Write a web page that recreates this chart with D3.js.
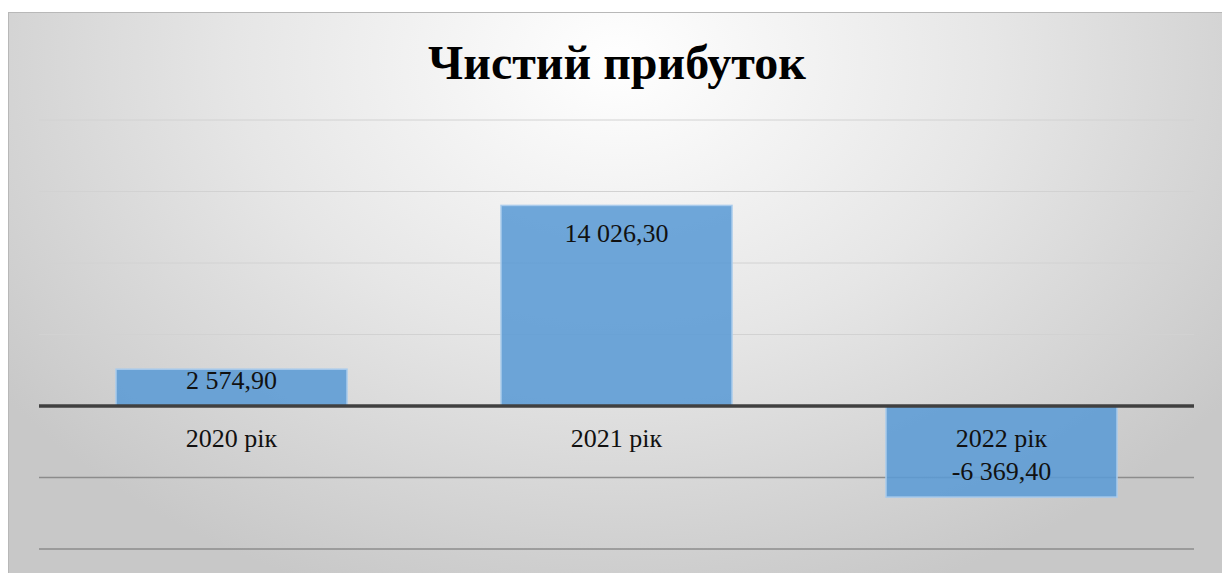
<!DOCTYPE html>
<html><head><meta charset="utf-8">
<script src="https://cdn.jsdelivr.net/npm/d3@7"></script>
<style>html,body{margin:0;padding:0;background:#fff;}svg{display:block;}</style>
</head><body>
<svg id="c" width="1222" height="573"></svg>
<script>
const categories = ["2020 рік", "2021 рік", "2022 рік"];
const values = [2574.9, 14026.3, -6369.4];
const valueLabels = ["2 574,90", "14 026,30", "-6 369,40"];
const yTicks = [-10000, -5000, 0, 5000, 10000, 15000, 20000];
const title = "Чистий прибуток";

const svg = d3.select("#c");
const defs = svg.append("defs");
const g = defs.append("radialGradient").attr("id","bg")
  .attr("gradientUnits","userSpaceOnUse").attr("cx",617).attr("cy",60).attr("r",760)
  .attr("gradientTransform","translate(617,60) scale(1,0.75) translate(-617,-60)");
g.append("stop").attr("offset","0").attr("stop-color","#ffffff");
g.append("stop").attr("offset","0.5").attr("stop-color","#e6e6e6");
g.append("stop").attr("offset","1").attr("stop-color","#c8c8c8");

svg.append("rect").attr("x",8.5).attr("y",12.5).attr("width",1222).attr("height",570)
  .attr("fill","url(#bg)").attr("stroke","#b8b8b8").attr("stroke-width",1);

const x = d3.scaleBand().domain(categories).range([39,1194]).paddingInner(0.4).paddingOuter(0.2);
const y = d3.scaleLinear().domain([-10000,20000]).range([549,120]);

svg.append("g").selectAll("line").data(yTicks.filter(d=>d!==0)).join("line")
  .attr("x1",39).attr("x2",1194).attr("y1",d=>y(d)).attr("y2",d=>y(d))
  .attr("stroke",d=>d<0?"#8c8c8c":"#d2d2d2").attr("stroke-width",d=>d<0?1.5:1);

svg.append("g").selectAll("rect").data(values).join("rect")
  .attr("x",(d,i)=>x(categories[i])).attr("width",x.bandwidth())
  .attr("y",d=>y(Math.max(0,d))).attr("height",d=>Math.abs(y(d)-y(0)))
  .attr("fill","#5b9bd5").attr("fill-opacity",0.88)
  .attr("stroke","#a9cbec").attr("stroke-width",1.5);

svg.append("line").attr("x1",39).attr("x2",1194).attr("y1",y(0)).attr("y2",y(0))
  .attr("stroke","#404040").attr("stroke-width",3.5);

const font = "Liberation Serif";
svg.append("g").selectAll("text").data(categories).join("text")
  .attr("x",d=>x(d)+x.bandwidth()/2).attr("y",y(0)+41)
  .attr("text-anchor","middle").style("font-family",font).style("font-size","26px")
  .style("fill","#111").text(d=>d);

svg.append("g").selectAll("text").data(values).join("text")
  .attr("x",(d,i)=>x(categories[i])+x.bandwidth()/2)
  .attr("y",d=> d>=0 ? Math.min(y(d)+37, y(0)-17) : y(d)-17)
  .attr("text-anchor","middle").style("font-family",font).style("font-size","26px")
  .style("fill","#111").text((d,i)=>valueLabels[i]);

svg.append("text").attr("x",617).attr("y",79).attr("text-anchor","middle")
  .style("font-family",font).style("font-weight","bold").style("font-size","48px")
  .style("fill","#000").text(title);
</script>
</body></html>
